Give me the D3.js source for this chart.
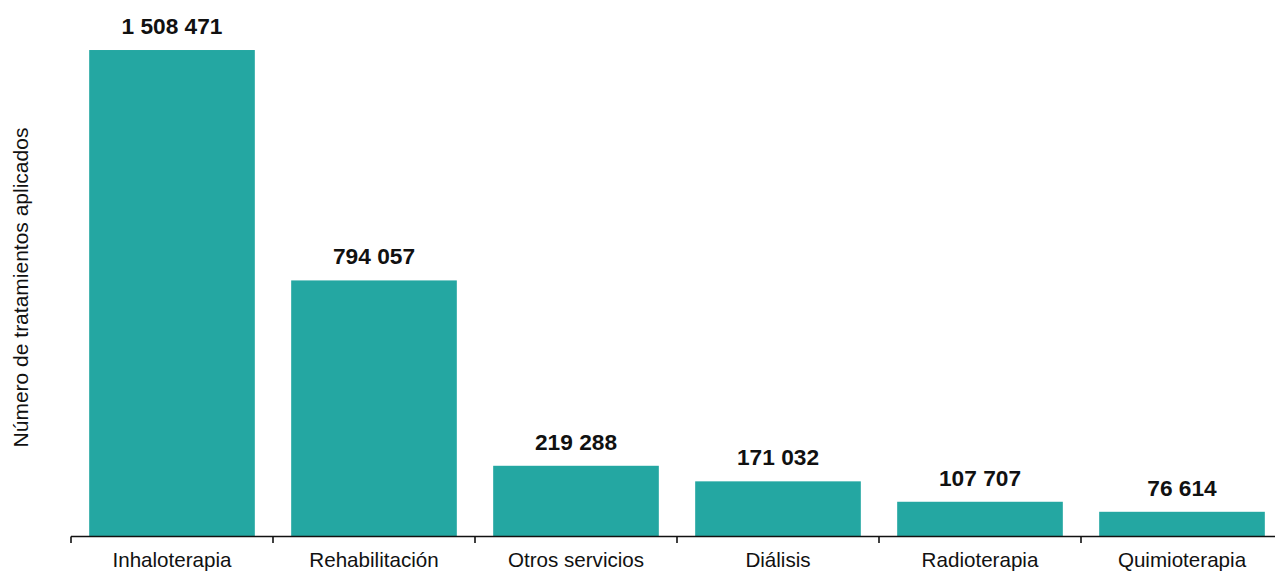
<!DOCTYPE html>
<html>
<head>
<meta charset="utf-8">
<script src="https://cdn.jsdelivr.net/npm/d3@7"></script>
<style>
  html, body { margin: 0; padding: 0; background: #fff; overflow: hidden; }
  svg { display: block; font-family: Arial, "Liberation Sans", sans-serif; }
</style>
</head>
<body>
<svg id="chart" width="1275" height="571"></svg>
<script>
const categories = ["Inhaloterapia", "Rehabilitación", "Otros servicios", "Diálisis", "Radioterapia", "Quimioterapia"];
const values = [1508471, 794057, 219288, 171032, 107707, 76614];
const valueLabels = ["1 508 471", "794 057", "219 288", "171 032", "107 707", "76 614"];
const yTitle = "Número de tratamientos aplicados";

const svg = d3.select("#chart");
const baseY = 536.5;

const x = d3.scaleBand()
  .domain(categories)
  .range([71, 1283])
  .paddingInner(0.18)
  .paddingOuter(0.09);

const y = d3.scaleLinear()
  .domain([0, 1600000])
  .range([baseY, 20.5]);

const data = categories.map((c, i) => ({ cat: c, val: values[i], lab: valueLabels[i] }));

svg.selectAll("rect.bar")
  .data(data)
  .join("rect")
  .attr("class", "bar")
  .attr("x", d => x(d.cat))
  .attr("width", x.bandwidth())
  .attr("y", d => y(d.val))
  .attr("height", d => baseY - y(d.val))
  .attr("fill", "#24a7a2");

svg.selectAll("text.val")
  .data(data)
  .join("text")
  .attr("class", "val")
  .attr("x", d => x(d.cat) + x.bandwidth() / 2)
  .attr("y", d => y(d.val) - 16)
  .attr("text-anchor", "middle")
  .attr("font-weight", "bold")
  .attr("font-size", "22.7px")
  .attr("fill", "#111")
  .text(d => d.lab);

// x axis line and boundary ticks
const step = x.step();
const x0 = 71;
svg.append("line")
  .attr("x1", x0).attr("x2", 1283)
  .attr("y1", baseY).attr("y2", baseY)
  .attr("stroke", "#111").attr("stroke-width", 1.6);

svg.selectAll("line.tick")
  .data(d3.range(categories.length + 1))
  .join("line")
  .attr("class", "tick")
  .attr("x1", i => x0 + i * step).attr("x2", i => x0 + i * step)
  .attr("y1", baseY).attr("y2", baseY + 6.5)
  .attr("stroke", "#111").attr("stroke-width", 1.6);

svg.selectAll("text.cat")
  .data(data)
  .join("text")
  .attr("class", "cat")
  .attr("x", d => x(d.cat) + x.bandwidth() / 2)
  .attr("y", 567.3)
  .attr("text-anchor", "middle")
  .attr("font-size", "20.6px")
  .attr("fill", "#111")
  .text(d => d.cat);

svg.append("text")
  .attr("transform", "translate(27.5,287.5) rotate(-90)")
  .attr("text-anchor", "middle")
  .attr("font-size", "21px")
  .attr("fill", "#111")
  .text(yTitle);
</script>
</body>
</html>
